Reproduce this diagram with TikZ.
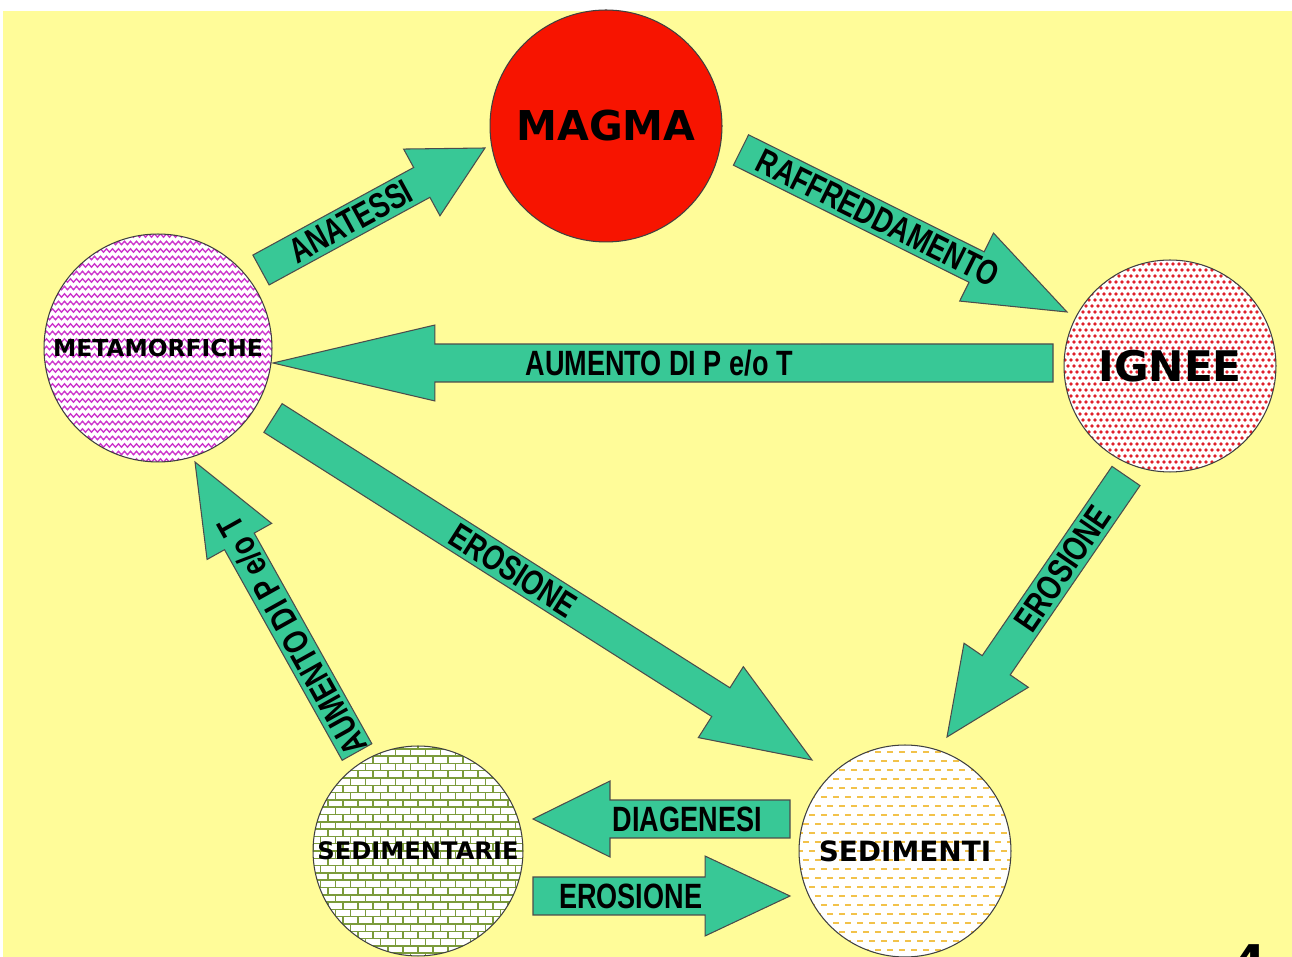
\documentclass[tikz,border=0pt]{standalone}
\usepackage{fontspec}
\usepackage{xcolor}
\newfontfamily\rockfont{DejaVu Sans}
\newfontfamily\flowfont[FakeStretch=0.77]{Liberation Sans}
\usetikzlibrary{calc,decorations.pathmorphing}

\definecolor{slide}{HTML}{FFFC99}
\definecolor{flowgreen}{HTML}{38C896}
\definecolor{magmared}{HTML}{F71400}
\definecolor{metapink}{HTML}{CC33CC}
\definecolor{igneered}{HTML}{E0202A}
\definecolor{brickgreen}{HTML}{7B9B3B}
\definecolor{sandyellow}{HTML}{F2C24A}

\tikzset{
  rock/.style={circle,draw=black!75,line width=0.6pt,inner sep=0pt,
    font=\rockfont\bfseries\fontsize{#1}{#1}\selectfont},
  flowarrow/.style={fill=flowgreen,draw=black!70,line width=0.6pt,line join=miter},
  flowlabel/.style={sloped,pos=0.5,inner sep=0pt,
    font=\flowfont\bfseries\fontsize{20}{24}\selectfont},
  zigline/.style={metapink,line width=0.75pt,decorate,
    decoration={zigzag,segment length=0.12cm,amplitude=0.035cm}},
  brickline/.style={brickgreen,line width=0.9pt},
  sandline/.style={sandyellow,line width=1.1pt},
}

% block arrow: [label opts]{tail}{tip}{half shaft}{half head}{head length}{label}
\newcommand{\flow}[7][]{%
  \pgfmathsetlengthmacro\flowwd{0.56905pt*(#4)}%
  \pgfmathsetlengthmacro\flowdn{0.56905pt*veclen(#6,#4)}%
  \pgfmathsetmacro\flowan{atan2(#4,#6)}%
  \pgfmathsetlengthmacro\flowdh{0.56905pt*veclen(#6,#5)}%
  \pgfmathsetmacro\flowah{atan2(#5,#6)}%
  \draw[flowarrow] ($(#2)!\flowwd!-90:(#3)$) -- ($(#3)!\flowdn!\flowan:(#2)$)
    -- ($(#3)!\flowdh!\flowah:(#2)$) -- (#3) -- ($(#3)!\flowdh!-\flowah:(#2)$)
    -- ($(#3)!\flowdn!-\flowan:(#2)$) -- ($(#2)!\flowwd!90:(#3)$) -- cycle;
  \path (#2) -- node[flowlabel,#1] {#7} (#3);
}

\begin{document}
\begin{tikzpicture}[x=0.02cm,y=0.02cm]
\fill[white] (0,0) rectangle (1292,957);
\fill[slide] (3,0) rectangle (1292,946);
\useasboundingbox (0,0) rectangle (1292,957);

% centres of the rocks
\coordinate (c-magma)  at (606,831);
\coordinate (c-meta)   at (158,609);
\coordinate (c-ignee)  at (1170,591);
\coordinate (c-sedrie) at (418,106);
\coordinate (c-sedti)  at (905,106);

% fillings
\fill[magmared] (c-magma) circle (116);
\begin{scope}[shift={(c-meta)}]
  \fill[white] (0,0) circle (114);
  \clip (0,0) circle (114);
  \foreach \k in {-16,...,16}
    \draw[zigline] (-125,\k*7.5) -- (125,\k*7.5);
\end{scope}
\begin{scope}[shift={(c-ignee)}]
  \fill[white] (0,0) circle (106);
  \clip (0,0) circle (106);
  \foreach \j in {-18,...,18}
    \foreach \i in {-19,...,19}
      \fill[igneered] ({\i*6+mod(\j,2)*3},\j*6) circle (1.9);
\end{scope}
\begin{scope}[shift={(c-sedrie)}]
  \fill[white] (0,0) circle (105);
  \clip (0,0) circle (105);
  \foreach \j in {-15,...,15} {
    \draw[brickline] (-110,\j*7.3) -- (110,\j*7.3);
    \foreach \i in {-8,...,8}
      \draw[brickline] ({\i*15+mod(\j,2)*7.5},\j*7.3) -- ++(0,7.3);
  }
\end{scope}
\begin{scope}[shift={(c-sedti)}]
  \fill[white] (0,0) circle (106);
  \clip (0,0) circle (106);
  \foreach \j in {-12,...,12}
    \foreach \i in {-10,...,10}
      \draw[sandline] ({\i*12+mod(\j,2)*6},\j*9) -- ++(6,0);
\end{scope}

% rocks
\node[rock=23.4,minimum size=4.64cm] (magma)  at (c-magma)  {MAGMA};
\node[rock=13.3,minimum size=4.56cm] (meta)   at (c-meta)   {METAMORFICHE};
\node[rock=24,minimum size=4.24cm]   (ignee)  at (c-ignee)  {IGNEE};
\node[rock=13.75,minimum size=4.2cm] (sedrie) at (c-sedrie) {SEDIMENTARIE};
\node[rock=15.9,minimum size=4.24cm] (sedti)  at (c-sedti)  {SEDIMENTI};

% arrow ends
\coordinate (anat-s) at (261,687);  \coordinate (anat-e) at (485,809);
\coordinate (raff-s) at (741,807);  \coordinate (raff-e) at (1067,645);
\coordinate (aum-s)  at (1053,594); \coordinate (aum-e)  at (273,594);
\coordinate (ero-s)  at (1126,481); \coordinate (ero-e)  at (947,220);
\coordinate (erm-s)  at (273,539);  \coordinate (erm-e)  at (812,197);
\coordinate (aus-s)  at (357,205);  \coordinate (aus-e)  at (195,495);
\coordinate (dia-s)  at (790,138);  \coordinate (dia-e)  at (533,138);
\coordinate (ers-s)  at (533,61);   \coordinate (ers-e)  at (790,61);

\flow[pos=0.4]{anat-s}{anat-e}{17}{38}{72}{ANATESSI}
\flow[pos=0.42]{raff-s}{raff-e}{17}{38}{101}{RAFFREDDAMENTO}
\flow[pos=0.505]{aum-s}{aum-e}{19}{38}{162}{AUMENTO DI P e/o T}
\flow[pos=0.354]{ero-s}{ero-e}{17}{39}{87}{EROSIONE}
\flow[pos=0.446]{erm-s}{erm-e}{17}{42}{108}{EROSIONE}
\flow[pos=0.4,allow upside down]{aus-s}{aus-e}{17}{37}{91}{AUMENTO DI P e/o T}
\flow[pos=0.4]{dia-s}{dia-e}{19}{38}{77}{DIAGENESI}
\flow[pos=0.38]{ers-s}{ers-e}{19}{40}{85}{EROSIONE}

\node[anchor=north,inner sep=0pt,font=\rockfont\bfseries\fontsize{28}{28}\selectfont]
  (pagenum) at (1250,13) {4};
\end{tikzpicture}
\end{document}
